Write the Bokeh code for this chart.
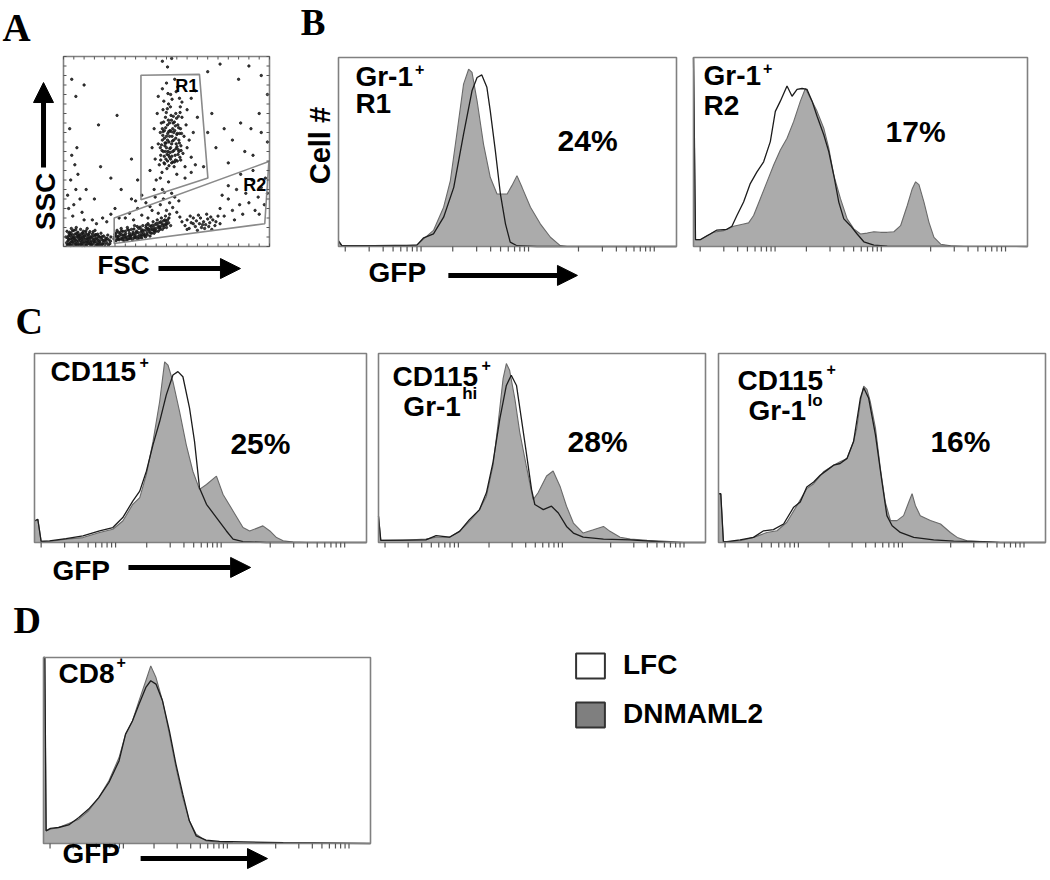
import math
from bokeh.plotting import figure
from bokeh.layouts import row, column
from bokeh.models import Label, Arrow, NormalHead, Range1d, Legend, LegendItem
from bokeh.embed import file_html
from bokeh.resources import INLINE

SANS = "Liberation Sans"
SERIF = "Liberation Serif"
GRAY_FILL = "#ababab"
GRAY_LINE = "#6a6a6a"
LFC_LINE = "#1c1c1c"
BOX = "#808080"
TICK = "#555555"

# ---------------- Panel A: FSC / SSC dot plot (channels 0-1000) ----------------
a_debris = [(18,8),(22,30),(25,55),(28,15),(30,75),(33,40),(36,5),(38,95),(40,25),(43,60),(46,12),(48,45),
            (50,85),(53,20),(55,65),(58,35),(60,8),(62,100),(65,50),(68,18),(70,75),(72,30),(75,58),(78,10),
            (80,42),(83,90),(85,22),(88,68),(90,5),(92,48),(95,30),(97,80),(100,15),(102,55),(105,38),(108,70),
            (110,8),(113,25),(115,95),(118,45),(120,62),(123,18),(125,35),(128,78),(130,10),(133,50),(136,28),
            (140,66),(143,40),(146,15),(150,55),(153,85),(156,25),(160,45),(163,10),(166,65),(170,32),(174,50),
            (178,18),(182,70),(186,38),(190,12),(195,55),(200,30),(205,45),(210,20),(215,60),(220,35),(225,15),
            (230,50),(20,45),(27,68),(35,22),(44,82),(52,50),(63,28),(74,42),(86,52),(96,62),(106,24),(116,12),
            (126,52),(138,8),(148,30),(158,62),(168,20),(180,48),(192,32),(202,10),(212,42),(15,20),(24,10),
            (32,58),(42,38),(57,12),(67,62),(82,32),(94,18),(112,58),(132,22),(152,38),(172,8),(188,52),
            (12,50),(17,80),(26,38),(31,12),(37,68),(41,48),(47,28),(54,40),(59,88),(64,70),(69,8),(73,52),
            (79,62),(84,12),(89,38),(93,72),(99,48),(104,5),(109,82),(114,40),(119,28),(124,68),(129,44),
            (134,12),(139,52),(144,78),(149,22),(154,62),(159,8),(164,38),(169,56),(176,28),(184,8),(194,20),
            (206,35),(218,8),(228,28)]
a_band = [(245,40),(250,65),(255,30),(260,85),(265,50),(270,35),(275,70),(280,95),(285,45),(290,60),(295,30),
          (300,80),(305,50),(310,100),(315,40),(320,70),(325,55),(330,90),(335,35),(340,65),(345,110),(350,50),
          (355,80),(360,40),(365,95),(370,60),(375,75),(380,45),(385,110),(390,85),(395,60),(400,100),(405,70),
          (410,120),(415,80),(420,55),(425,105),(430,90),(435,130),(440,70),(445,115),(450,95),(455,140),
          (460,80),(465,125),(470,105),(475,150),(480,90),(485,135),(490,115),(495,160),(500,100),(505,140),
          (510,125),(515,170),(520,110),(258,55),(268,75),(278,40),(288,80),(298,60),(308,35),(318,85),
          (328,45),(338,75),(348,60),(358,105),(368,45),(378,90),(388,70),(398,50),(408,95),(418,110),(428,70),
          (438,100),(448,80),(458,110),(468,90),(478,120),(488,100),(498,130),(262,42),(282,62),(302,45),
          (322,58),(342,48),(362,72),(382,62),(402,85),(422,90),(442,88),
          (248,52),(256,72),(264,38),(272,58),(282,82),(292,48),(302,68),(312,88),(322,42),(332,62),(342,92),
          (352,72),(362,52),(372,102),(382,82),(392,58),(402,112),(412,92),(422,72),(432,112),(442,82),
          (452,122),(462,100),(472,130),(482,110),(492,140),(502,118),(512,150),(287,35),(317,55),(347,45),
          (377,55),(407,60),(437,85),(467,100),(497,115)]
a_band_high = [(300,150),(320,175),(340,140),(360,200),(380,165),(400,230),(410,150),(430,190),(445,260),
               (460,175),(470,220),(485,250),(500,190),(515,230),(530,205),(540,260),(550,180),(560,240),
               (525,280),(490,285),(350,240),(380,270),(420,210),(250,200),(270,150),(230,170),(210,130),
               (190,150),(160,120),(140,140)]
a_cluster3 = [(590,110),(600,140),(610,95),(620,125),(630,150),(640,105),(645,135),(650,85),(660,120),
              (665,150),(670,100),(680,130),(685,95),(690,115),(700,145),(705,105),(710,125),(720,90),
              (725,140),(735,110),(615,160),(655,165),(695,170),(600,90),(740,130),(575,130),(565,155),
              (750,160),(760,120),(630,120),(675,115),(715,155)]
a_r2_sparse = [(760,200),(780,160),(800,250),(820,190),(840,300),(855,220),(870,170),(885,280),(900,230),
               (915,350),(930,190),(945,260),(960,310),(975,220),(990,280),(800,320),(860,380),(920,400),
               (950,170),(980,360),(770,270),(830,140)]
a_r1 = [(420,400),(430,520),(440,620),(445,460),(450,350),(455,700),(460,540),(465,430),(470,600),(472,480),
        (475,650),(478,390),(480,560),(483,720),(485,500),(488,440),(490,610),(492,530),(495,680),(497,460),
        (500,580),(502,410),(505,640),(507,500),(510,750),(512,550),(515,470),(517,610),(520,520),(522,690),
        (525,440),(527,580),(530,500),(532,650),(535,560),(537,420),(540,610),(542,480),(545,700),(547,540),
        (550,590),(552,450),(555,640),(557,510),(560,560),(563,780),(565,470),(568,620),(570,530),(575,680),
        (580,490),(585,580),(590,420),(595,640),(600,520),(610,560),(620,470),(630,600),(640,430),(650,680),
        (460,790),(480,830),(500,860),(520,800),(540,880),(555,840),(575,760),(600,720),(620,780),(640,820),
        (470,360),(510,340),(550,380),(590,360),(620,390),(440,300),(480,300),(470,520),(500,520),(505,560),
        (495,500),(515,580),(525,540),(535,600),(510,480),(520,460),(530,620),(490,570),(515,650),(480,620),
        (545,570),(560,500),(505,450),(480,975),(505,945),(525,990),
        (472,455),(478,505),(482,585),(486,655),(489,475),(493,545),(496,625),(499,705),(503,485),(506,595),
        (509,665),(512,425),(516,515),(519,735),(523,605),(526,475),(529,555),(533,685),(536,505),(539,445),
        (543,635),(546,515),(549,675),(553,595),(556,485),(559,625),(562,545),(566,705),(569,455),(573,595),
        (476,535),(484,605),(491,435),(498,545),(504,725),(511,605),(518,495),(524,665),(531,445),(538,655),
        (544,455),(551,525),(558,685),(564,595),(571,505),(487,765),(527,775),(547,815),(507,805),(567,735)]
a_scatter = [(30,620),(40,480),(55,430),(35,350),(60,300),(80,250),(25,200),(45,160),(90,180),(70,380),
             (100,140),(20,270),(50,220),(110,300),(65,520),(40,880),(60,790),(100,850),(170,640),(260,690),
             (330,460),(230,360),(280,300),(180,420),(150,250),(360,350),(330,250),(700,920),(760,960),
             (850,880),(900,950),(960,900),(990,800),(720,700),(780,620),(820,560),(880,500),(920,480),
             (960,600),(860,650),(740,520),(800,440),(680,420),(700,600),(950,700),(990,550),(910,620)]
a_points = a_debris + a_band + a_band_high + a_cluster3 + a_r2_sparse + a_r1 + a_scatter
a_fsc = [pt[0] for pt in a_points]
a_ssc = [pt[1] for pt in a_points]

gate_r1_fsc = [376, 660, 701, 376]
gate_r1_ssc = [901, 906, 360, 246]
gate_r2_fsc = [246, 977, 997, 246]
gate_r2_ssc = [16, 120, 447, 150]

# ---------------- Histograms: GFP channel (0-1000) vs % of max ----------------
b1_dn_x = [0, 10, 104, 202, 232, 252, 281, 311, 331, 350, 370, 385, 395, 410, 429, 449, 469, 499, 513, 528, 543, 568, 597, 627, 656, 676, 1000]
b1_dn_y = [3.2, 0.5, 0.4, 0.5, 0.9, 4.0, 8.5, 20.8, 34.9, 59.5, 85.9, 93.8, 92.1, 77.1, 54.2, 36.6, 27.8, 27.8, 32.2, 37.5, 31.3, 20.8, 12.0, 4.9, 0.5, 0.0, 0.0]
b1_lfc_x = [0, 10, 104, 232, 252, 281, 311, 341, 370, 395, 410, 424, 439, 449, 464, 479, 494, 508, 528, 587, 1000]
b1_lfc_y = [2.8, 0.4, 0.4, 0.7, 4.6, 6.7, 15.5, 31.3, 59.5, 82.4, 89.4, 90.8, 84.2, 71.8, 50.7, 27.8, 12.0, 2.3, 0.4, 0.0, 0.0]

b2_dn_x = [0, 6, 20, 40, 60, 90, 120, 150, 165, 180, 200, 220, 240, 260, 280, 300, 320, 335, 350, 370, 390, 405, 420, 440, 460, 480, 500, 520, 540, 560, 580, 600, 620, 640, 655, 665, 675, 690, 705, 720, 740, 770, 810, 1000]
b2_dn_y = [100, 3.6, 3.6, 5.7, 7.5, 8.4, 10.7, 11.9, 12.5, 16.4, 25.3, 34.2, 43.1, 51.1, 57.3, 66.2, 76.9, 83.6, 78.6, 71.5, 62.6, 52.0, 37.7, 25.3, 14.6, 9.3, 6.6, 7.1, 7.8, 7.5, 7.5, 7.8, 11.0, 21.7, 30.6, 34.2, 32.7, 23.5, 12.8, 4.8, 1.2, 0.4, 0.0, 0.0]
b2_lfc_x = [0, 6, 20, 50, 70, 100, 115, 130, 150, 170, 190, 210, 230, 245, 260, 280, 295, 310, 325, 340, 355, 370, 390, 405, 420, 435, 450, 470, 490, 510, 540, 580, 1000]
b2_lfc_y = [100, 3.6, 3.6, 6.6, 8.7, 9.1, 10.7, 16.4, 23.5, 33.3, 39.5, 44.8, 55.5, 71.5, 76.9, 84.9, 79.5, 83.1, 83.6, 83.1, 76.9, 68.9, 59.1, 50.2, 37.7, 23.5, 14.6, 11.0, 6.6, 2.5, 0.7, 0.2, 0.0]

c1_dn_x = [0, 10, 20, 45, 95, 146, 196, 236, 266, 296, 317, 337, 357, 377, 392, 402, 417, 437, 457, 477, 497, 518, 548, 568, 598, 628, 648, 688, 709, 729, 749, 779, 819, 1000]
c1_dn_y = [11.4, 12.3, 0.9, 0.5, 1.8, 2.6, 5.3, 7.0, 11.4, 20.2, 23.7, 36.0, 53.5, 74.6, 95.6, 93.9, 85.1, 69.3, 51.8, 37.7, 28.1, 30.7, 35.1, 25.4, 16.7, 7.9, 6.1, 8.8, 6.1, 2.6, 0.9, 0.2, 0.0, 0.0]
c1_lfc_x = [0, 10, 20, 45, 95, 146, 196, 236, 266, 296, 317, 337, 357, 377, 397, 417, 432, 447, 467, 482, 497, 518, 548, 578, 598, 628, 698, 1000]
c1_lfc_y = [11.4, 12.3, 0.5, 0.9, 2.1, 3.5, 6.1, 7.9, 13.2, 21.9, 27.2, 37.7, 51.8, 64.0, 78.1, 88.6, 90.4, 87.7, 71.1, 53.5, 28.9, 20.2, 13.2, 6.1, 1.8, 0.5, 0.0, 0.0]

c2_dn_x = [0, 7, 74, 145, 176, 217, 248, 278, 309, 330, 350, 365, 381, 391, 401, 417, 432, 452, 473, 488, 514, 534, 555, 575, 596, 626, 657, 688, 708, 739, 770, 821, 893, 933, 1000]
c2_dn_y = [13.9, 1.1, 1.1, 1.8, 2.8, 2.8, 5.9, 11.2, 17.4, 24.5, 40.5, 61.8, 86.7, 94.7, 91.1, 76.0, 58.3, 40.5, 22.7, 26.3, 35.2, 37.8, 29.8, 19.2, 10.3, 5.0, 6.7, 8.5, 5.9, 2.8, 1.8, 1.1, 0.5, 0.0, 0.0]
c2_lfc_x = [0, 7, 145, 176, 217, 248, 278, 309, 330, 350, 371, 391, 406, 422, 437, 452, 468, 478, 504, 529, 550, 575, 596, 626, 688, 770, 893, 1000]
c2_lfc_y = [13.9, 1.1, 1.4, 3.6, 2.8, 5.9, 12.1, 17.4, 26.3, 42.3, 65.4, 83.1, 88.5, 83.1, 65.4, 47.6, 28.1, 20.1, 17.4, 19.2, 15.6, 8.5, 5.0, 2.8, 1.8, 1.4, 0.0, 0.0]

c3_dn_x = [0, 7, 15, 26, 66, 107, 148, 179, 209, 240, 270, 291, 321, 352, 372, 393, 413, 423, 434, 444, 454, 464, 480, 495, 510, 526, 546, 566, 582, 592, 602, 617, 648, 679, 709, 730, 760, 811, 862, 1000]
c3_dn_y = [25.8, 25.8, 0.4, 0.4, 0.9, 2.7, 5.3, 6.2, 10.7, 19.6, 28.5, 31.1, 37.4, 40.9, 42.7, 44.5, 53.4, 60.5, 74.7, 82.7, 81.0, 74.7, 60.5, 39.1, 21.4, 11.6, 11.6, 14.2, 21.4, 25.8, 19.6, 14.2, 11.6, 9.8, 5.3, 2.7, 0.9, 0.4, 0.0, 0.0]
c3_lfc_x = [0, 7, 15, 26, 66, 107, 138, 168, 199, 230, 250, 270, 291, 311, 332, 352, 372, 393, 413, 434, 444, 459, 480, 500, 515, 531, 556, 597, 658, 719, 811, 862, 1000]
c3_lfc_y = [25.8, 25.8, 0.4, 0.4, 1.4, 2.7, 6.2, 6.8, 9.8, 18.7, 21.4, 29.4, 32.0, 35.6, 38.3, 40.9, 41.8, 44.5, 53.4, 76.5, 81.9, 76.5, 56.9, 32.0, 14.2, 8.9, 5.3, 2.7, 1.4, 0.7, 0.4, 0.0, 0.0]

d_dn_x = [0, 4, 8, 21, 46, 77, 108, 138, 169, 200, 231, 251, 272, 292, 313, 328, 344, 364, 385, 405, 426, 446, 467, 497, 538, 579, 733, 1000]
d_dn_y = [100, 100, 6.8, 7.7, 8.6, 10.8, 13.1, 17.6, 24.7, 33.7, 46.2, 58.8, 65.9, 76.7, 87.5, 95.5, 89.2, 76.7, 58.8, 40.9, 24.7, 12.2, 5.0, 1.4, 0.7, 0.4, 0.2, 0.0]
d_lfc_x = [0, 4, 8, 21, 46, 77, 108, 138, 169, 200, 231, 251, 272, 292, 313, 328, 344, 364, 385, 405, 426, 446, 467, 497, 538, 733, 1000]
d_lfc_y = [100, 100, 6.8, 8.1, 8.6, 10.0, 14.0, 18.5, 24.7, 32.8, 44.4, 58.8, 65.9, 74.9, 83.9, 87.5, 85.7, 76.7, 60.6, 42.7, 26.5, 12.2, 4.1, 1.8, 1.1, 0.4, 0.0]

series_names = ["LFC", "DNMAML2"]

# axis tick positions
decade_starts = [20, 338, 710]
decade_width = 235
GFP_TICKS = [s + decade_width * math.log10(k) for s in decade_starts for k in range(1, 10)]
A_TICKS = list(range(0, 1001, 50))


# ---------------- helpers ----------------
def panel_fig(W, H, bx, by, bw, bh, ymax):
    """Figure whose frame is the whole canvas; the panel box spans x 0..1000, y 0..ymax."""
    ux = 1000.0 / bw
    uy = ymax / bh
    p = figure(width=W, height=H,
               min_border=0, min_border_left=0, min_border_right=0, min_border_top=0, min_border_bottom=0,
               x_range=Range1d(-bx * ux, (W - bx) * ux),
               y_range=Range1d(-(H - by - bh) * uy, ymax + by * uy),
               x_axis_location=None, y_axis_location=None,
               output_backend="svg", toolbar_location=None, tools="")
    p.outline_line_color = None
    p.grid.visible = False
    p.background_fill_color = "white"
    p.border_fill_color = "white"
    p.tags = [uy]
    return p, ux, uy


def draw_box(p, ymax):
    p.quad(left=[0], right=[1000], bottom=[0], top=[ymax], fill_color=None,
           line_color=BOX, line_width=1.6)


def txt(p, x, y, s, size, font=SANS, align="left", baseline="alphabetic", angle=0.0):
    uy = p.tags[0]
    if angle == 0.0:
        # empirical vertical correction of the svg text placement (pixels -> data units)
        y = y + (12 if baseline == "alphabetic" else 3) * uy
    p.add_layout(Label(x=x, y=y, text=s, text_font=font, text_font_size=f"{size}px",
                       text_font_style="bold", text_align=align, text_baseline=baseline,
                       angle=angle, text_color="black"))


def arrow(p, x0, y0, x1, y1):
    p.add_layout(Arrow(end=NormalHead(size=20, fill_color="black", line_color="black", line_width=1),
                       x_start=x0, y_start=y0, x_end=x1, y_end=y1,
                       line_width=5, line_color="black"))


def hist_fig(W, H, bx, by, bw, bh, dn_x, dn_y, lfc_x, lfc_y):
    p, ux, uy = panel_fig(W, H, bx, by, bw, bh, 100)
    p.varea(x=dn_x, y1=0, y2=dn_y, fill_color=GRAY_FILL)
    p.line(dn_x, dn_y, line_color=GRAY_LINE, line_width=1.1)
    p.line(lfc_x, lfc_y, line_color=LFC_LINE, line_width=1.3)
    draw_box(p, 100)
    p.segment(x0=GFP_TICKS, y0=0, x1=GFP_TICKS, y1=-5 * uy, line_color=TICK, line_width=1.2)
    return p


# ---------------- Panel A ----------------
pa, aux, auy = panel_fig(288, 290, 63, 56, 206, 190, 1000)
pa.scatter(a_fsc, a_ssc, size=2.4, color="#1a1a1a", alpha=0.85)
pa.patch(gate_r1_fsc, gate_r1_ssc, fill_alpha=0, line_color="#8a8a8a", line_width=1.6)
pa.patch(gate_r2_fsc, gate_r2_ssc, fill_alpha=0, line_color="#8a8a8a", line_width=1.6)
draw_box(pa, 1000)
pa.segment(x0=A_TICKS, y0=0, x1=A_TICKS, y1=3 * auy, line_color=TICK, line_width=1)
pa.segment(x0=A_TICKS, y0=1000, x1=A_TICKS, y1=1000 - 3 * auy, line_color=TICK, line_width=1)
pa.segment(x0=0, y0=A_TICKS, x1=3 * aux, y1=A_TICKS, line_color=TICK, line_width=1)
pa.segment(x0=1000, y0=A_TICKS, x1=1000 - 3 * aux, y1=A_TICKS, line_color=TICK, line_width=1)
txt(pa, 598, 830, "R1", 18, align="center", baseline="middle")
txt(pa, 928, 310, "R2", 18, align="center", baseline="middle")
txt(pa, -296, 1090, "A", 39, font=SERIF)
txt(pa, -87, 237, "SSC", 28, align="center", baseline="middle", angle=math.pi / 2)
arrow(pa, -97, 416, -97, 863)
txt(pa, 165, -111, "FSC", 26, baseline="middle")
arrow(pa, 461, -116, 859, -116)

# ---------------- Panel B ----------------
pb1 = hist_fig(397, 290, 50, 57, 338, 189, b1_dn_x, b1_dn_y, b1_lfc_x, b1_lfc_y)
txt(pb1, -112, 112.0, "B", 37, font=SERIF)
txt(pb1, -56, 53.4, "Cell #", 29, align="center", baseline="middle", angle=math.pi / 2)
txt(pb1, 50, 83.6, "Gr-1", 28)
txt(pb1, 226, 87.8, "+", 16)
txt(pb1, 50, 69.3, "R1", 28)
txt(pb1, 648, 49.7, "24%", 30)
txt(pb1, 89, -15.3, "GFP", 28, baseline="middle")
arrow(pb1, 325, -15.3, 707, -15.3)

pb2 = hist_fig(365, 290, 8, 57, 334, 189, b2_dn_x, b2_dn_y, b2_lfc_x, b2_lfc_y)
txt(pb2, 30, 84.0, "Gr-1", 28)
txt(pb2, 208, 88.2, "+", 16)
txt(pb2, 30, 68.2, "R2", 28)
txt(pb2, 575, 54.5, "17%", 30)

# ---------------- Panel C ----------------
pc1 = hist_fig(372, 308, 34, 63, 332, 189, c1_dn_x, c1_dn_y, c1_lfc_x, c1_lfc_y)
txt(pc1, -57, 110.6, "C", 38, font=SERIF)
txt(pc1, 48, 84.1, "CD115", 28)
txt(pc1, 316, 89.0, "+", 16)
txt(pc1, 590, 46.0, "25%", 30)
txt(pc1, 54, -16.4, "GFP", 28, baseline="middle")
arrow(pc1, 283, -13.2, 651, -13.2)

pc2 = hist_fig(340, 308, 6, 63, 327, 189, c2_dn_x, c2_dn_y, c2_lfc_x, c2_lfc_y)
txt(pc2, 43, 81.5, "CD115", 28)
txt(pc2, 315, 87.5, "+", 16)
txt(pc2, 76, 65.6, "Gr-1", 28)
txt(pc2, 256, 72.5, "hi", 17)
txt(pc2, 578, 47.1, "28%", 30)

pc3 = hist_fig(338, 308, 6, 63, 327, 189, c3_dn_x, c3_dn_y, c3_lfc_x, c3_lfc_y)
txt(pc3, 58, 79.4, "CD115", 28)
txt(pc3, 330, 85.5, "+", 16)
txt(pc3, 92, 63.5, "Gr-1", 28)
txt(pc3, 272, 69.0, "lo", 17)
txt(pc3, 648, 47.1, "16%", 30)

# ---------------- Panel D ----------------
pd_ = hist_fig(390, 280, 43, 59, 327, 186, d_dn_x, d_dn_y, d_lfc_x, d_lfc_y)
txt(pd_, -92, 113.5, "D", 38, font=SERIF)
txt(pd_, 46, 85.0, "CD8", 28)
txt(pd_, 223, 91.0, "+", 16)
txt(pd_, 58, -7.0, "GFP", 28, baseline="middle")
arrow(pd_, 297, -8.1, 685, -8.1)

# ---------------- Legend ----------------
pl = figure(width=660, height=280,
            min_border=0, min_border_left=0, min_border_right=0, min_border_top=0, min_border_bottom=0,
            x_range=Range1d(0, 1), y_range=Range1d(0, 1),
            x_axis_location=None, y_axis_location=None,
            output_backend="svg", toolbar_location=None, tools="")
pl.grid.visible = False
pl.outline_line_color = None
pl.background_fill_color = "white"
pl.border_fill_color = "white"
r_lfc = pl.quad(left=[5], right=[6], top=[6], bottom=[5], fill_color="white", line_color="#333333", line_width=2)
r_dn = pl.quad(left=[5], right=[6], top=[6], bottom=[5], fill_color="#7f7f7f", line_color="#333333", line_width=2)
legend = Legend(items=[LegendItem(label=series_names[0], renderers=[r_lfc]),
                       LegendItem(label=series_names[1], renderers=[r_dn])],
                location=(182, 148), glyph_width=36, glyph_height=31, label_standoff=15,
                spacing=17, padding=0, margin=0, border_line_color=None,
                background_fill_alpha=0, label_text_font=SANS, label_text_font_size="28px",
                label_text_font_style="bold", label_text_color="black")
pl.add_layout(legend)

layout = column(row(pa, pb1, pb2), row(pc1, pc2, pc3), row(pd_, pl))
open("out.html", "w").write(file_html(layout, INLINE))
